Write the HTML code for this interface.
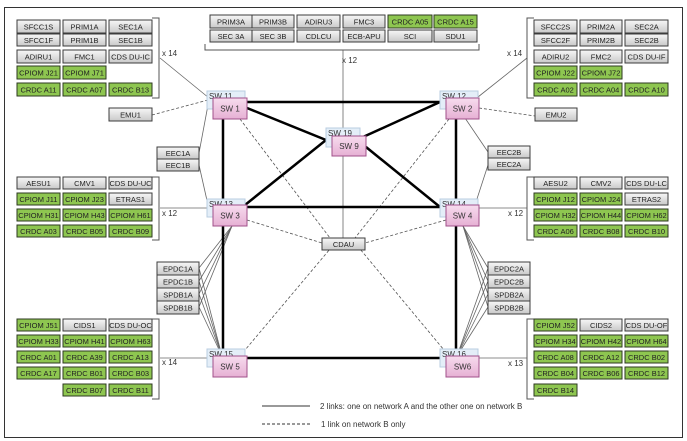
<!DOCTYPE html>
<html><head><meta charset="utf-8"><style>
html,body{margin:0;padding:0;background:#fff;}
svg{display:block;font-family:"Liberation Sans",sans-serif;}
.g{fill:url(#gg);stroke:#3c3c3c;stroke-width:1;}
.v{fill:#8ec650;stroke:#2e3a22;stroke-width:1;}
.t{font-size:7.5px;text-anchor:middle;fill:#222;}
.b{fill:#e4eef8;stroke:#b9cde0;stroke-width:1;}
.p{fill:url(#pp);stroke:#a0508a;stroke-width:1;}
.st{font-size:8px;fill:#333;}
.sw{font-size:8px;text-anchor:middle;fill:#333;}
.thk{stroke:#000;stroke-width:2.5;fill:none;}
.thn{stroke:#666;stroke-width:0.8;fill:none;}
.dsh{stroke:#555;stroke-width:0.8;stroke-dasharray:3,2;fill:none;}
.br{stroke:#555;stroke-width:1;fill:none;}
.lbl{font-size:8px;fill:#333;}
</style></head><body>
<svg width="687" height="441" viewBox="0 0 687 441">
<defs>
<linearGradient id="gg" x1="0" y1="0" x2="0" y2="1"><stop offset="0" stop-color="#f7f7f7"/><stop offset="1" stop-color="#c9c9c9"/></linearGradient>
<linearGradient id="pp" x1="0" y1="0" x2="0" y2="1"><stop offset="0" stop-color="#f7dcee"/><stop offset="1" stop-color="#e6b0d4"/></linearGradient>
</defs>
<rect x="4.5" y="7.5" width="678" height="430" fill="#fff" stroke="#333" stroke-width="1"/>

<!-- thin connectors -->
<line class="thn" x1="343" y1="50" x2="343" y2="238"/>
<line class="thn" x1="160" y1="58" x2="209" y2="98"/>
<line class="thn" x1="527" y1="58" x2="478" y2="97"/>
<line class="thn" x1="160" y1="208" x2="209" y2="208"/>
<line class="thn" x1="479" y1="208" x2="527" y2="208"/>
<line class="thn" x1="160" y1="358" x2="209" y2="358"/>
<line class="thn" x1="479" y1="358" x2="527" y2="358"/>
<line class="thn" x1="208" y1="105" x2="199" y2="153"/>
<line class="thn" x1="199" y1="165" x2="208" y2="205"/>
<line class="thn" x1="465" y1="118" x2="488" y2="152"/>
<line class="thn" x1="488" y1="165" x2="475" y2="205"/>
<!-- EPDC left -->
<line class="thn" x1="199" y1="268" x2="232" y2="226"/>
<line class="thn" x1="199" y1="281" x2="232" y2="226"/>
<line class="thn" x1="199" y1="294" x2="232" y2="226"/>
<line class="thn" x1="199" y1="307" x2="232" y2="226"/>
<line class="thn" x1="199" y1="268" x2="222" y2="356"/>
<line class="thn" x1="199" y1="281" x2="222" y2="356"/>
<line class="thn" x1="199" y1="294" x2="222" y2="356"/>
<line class="thn" x1="199" y1="307" x2="222" y2="356"/>
<!-- EPDC right -->
<line class="thn" x1="488" y1="268" x2="463" y2="226"/>
<line class="thn" x1="488" y1="281" x2="463" y2="226"/>
<line class="thn" x1="488" y1="294" x2="463" y2="226"/>
<line class="thn" x1="488" y1="307" x2="463" y2="226"/>
<line class="thn" x1="488" y1="268" x2="457" y2="356"/>
<line class="thn" x1="488" y1="281" x2="457" y2="356"/>
<line class="thn" x1="488" y1="294" x2="457" y2="356"/>
<line class="thn" x1="488" y1="307" x2="457" y2="356"/>

<!-- dashed -->
<line class="dsh" x1="152" y1="115" x2="208" y2="100"/>
<line class="dsh" x1="479" y1="108" x2="535" y2="116"/>
<line class="dsh" x1="240" y1="119" x2="330" y2="238"/>
<line class="dsh" x1="449" y1="119" x2="355" y2="238"/>
<line class="dsh" x1="247" y1="220" x2="322" y2="243"/>
<line class="dsh" x1="446" y1="220" x2="365" y2="243"/>
<line class="dsh" x1="240" y1="356" x2="330" y2="249"/>
<line class="dsh" x1="449" y1="356" x2="360" y2="249"/>

<!-- thick -->
<line class="thk" x1="240" y1="102" x2="446" y2="102"/>
<line class="thk" x1="223" y1="118" x2="223" y2="357"/>
<line class="thk" x1="456" y1="118" x2="456" y2="357"/>
<line class="thk" x1="240" y1="207" x2="446" y2="207"/>
<line class="thk" x1="240" y1="358" x2="446" y2="358"/>
<line class="thk" x1="247" y1="108" x2="326" y2="140"/>
<line class="thk" x1="363" y1="137" x2="440" y2="102"/>
<line class="thk" x1="245" y1="205" x2="326" y2="140"/>
<line class="thk" x1="366" y1="147" x2="440" y2="207"/>

<!-- brackets -->
<path class="br" d="M152,18 H159 V98 H152"/>
<path class="br" d="M152,177 H159 V240 H152"/>
<path class="br" d="M152,319 H159 V399 H152"/>
<path class="br" d="M534,18 H527 V98 H534"/>
<path class="br" d="M534,177 H527 V240 H534"/>
<path class="br" d="M534,319 H527 V399 H534"/>
<path class="br" d="M205,44 V50 H479 V44"/>
<text class="lbl" x="162" y="56">x 14</text>
<text class="lbl" x="162" y="216">x 12</text>
<text class="lbl" x="162" y="365">x 14</text>
<text class="lbl" x="507" y="56">x 14</text>
<text class="lbl" x="508" y="216">x 12</text>
<text class="lbl" x="508" y="366">x 13</text>
<text class="lbl" x="342" y="63">x 12</text>

<!-- top group -->
<rect class="g" x="210" y="15" width="42" height="13"/><text class="t" x="231" y="24.5">PRIM3A</text>
<rect class="g" x="252" y="15" width="42" height="13"/><text class="t" x="273" y="24.5">PRIM3B</text>
<rect class="g" x="297" y="15" width="43" height="13"/><text class="t" x="318.5" y="24.5">ADIRU3</text>
<rect class="g" x="343" y="15" width="42" height="13"/><text class="t" x="364" y="24.5">FMC3</text>
<rect class="v" x="388" y="15" width="44" height="13"/><text class="t" x="410" y="24.5">CRDC  A05</text>
<rect class="v" x="434" y="15" width="43" height="13"/><text class="t" x="455.5" y="24.5">CRDC  A15</text>
<rect class="g" x="210" y="30" width="42" height="12"/><text class="t" x="231" y="39">SEC  3A</text>
<rect class="g" x="252" y="30" width="42" height="12"/><text class="t" x="273" y="39">SEC  3B</text>
<rect class="g" x="297" y="30" width="43" height="12"/><text class="t" x="318.5" y="39">CDLCU</text>
<rect class="g" x="343" y="30" width="42" height="12"/><text class="t" x="364" y="39">ECB-APU</text>
<rect class="g" x="388" y="30" width="44" height="12"/><text class="t" x="410" y="39">SCI</text>
<rect class="g" x="434" y="30" width="43" height="12"/><text class="t" x="455.5" y="39">SDU1</text>

<!-- left top -->
<rect class="g" x="17" y="20" width="43" height="13"/><text class="t" x="38.5" y="29.5">SFCC1S</text>
<rect class="g" x="63" y="20" width="43" height="13"/><text class="t" x="84.5" y="29.5">PRIM1A</text>
<rect class="g" x="109" y="20" width="43" height="13"/><text class="t" x="130.5" y="29.5">SEC1A</text>
<rect class="g" x="17" y="34" width="43" height="12"/><text class="t" x="38.5" y="43">SFCC1F</text>
<rect class="g" x="63" y="34" width="43" height="12"/><text class="t" x="84.5" y="43">PRIM1B</text>
<rect class="g" x="109" y="34" width="43" height="12"/><text class="t" x="130.5" y="43">SEC1B</text>
<rect class="g" x="17" y="50" width="43" height="13"/><text class="t" x="38.5" y="59.5">ADIRU1</text>
<rect class="g" x="63" y="50" width="43" height="13"/><text class="t" x="84.5" y="59.5">FMC1</text>
<rect class="g" x="109" y="50" width="43" height="13"/><text class="t" x="130.5" y="59.5">CDS DU-IC</text>
<rect class="v" x="17" y="66" width="43" height="13"/><text class="t" x="38.5" y="75.5">CPIOM  J21</text>
<rect class="v" x="63" y="66" width="43" height="13"/><text class="t" x="84.5" y="75.5">CPIOM  J71</text>
<rect class="v" x="17" y="83" width="43" height="13"/><text class="t" x="38.5" y="92.5">CRDC  A11</text>
<rect class="v" x="63" y="83" width="43" height="13"/><text class="t" x="84.5" y="92.5">CRDC  A07</text>
<rect class="v" x="109" y="83" width="43" height="13"/><text class="t" x="130.5" y="92.5">CRDC  B13</text>
<rect class="g" x="109" y="108" width="43" height="13"/><text class="t" x="130.5" y="117.5">EMU1</text>

<!-- right top -->
<rect class="g" x="534" y="20" width="43" height="13"/><text class="t" x="555.5" y="29.5">SFCC2S</text>
<rect class="g" x="580" y="20" width="42" height="13"/><text class="t" x="601" y="29.5">PRIM2A</text>
<rect class="g" x="625" y="20" width="43" height="13"/><text class="t" x="646.5" y="29.5">SEC2A</text>
<rect class="g" x="534" y="34" width="43" height="12"/><text class="t" x="555.5" y="43">SFCC2F</text>
<rect class="g" x="580" y="34" width="42" height="12"/><text class="t" x="601" y="43">PRIM2B</text>
<rect class="g" x="625" y="34" width="43" height="12"/><text class="t" x="646.5" y="43">SEC2B</text>
<rect class="g" x="534" y="50" width="43" height="13"/><text class="t" x="555.5" y="59.5">ADIRU2</text>
<rect class="g" x="580" y="50" width="42" height="13"/><text class="t" x="601" y="59.5">FMC2</text>
<rect class="g" x="625" y="50" width="43" height="13"/><text class="t" x="646.5" y="59.5">CDS DU-IF</text>
<rect class="v" x="534" y="66" width="43" height="13"/><text class="t" x="555.5" y="75.5">CPIOM  J22</text>
<rect class="v" x="580" y="66" width="42" height="13"/><text class="t" x="601" y="75.5">CPIOM  J72</text>
<rect class="v" x="534" y="83" width="43" height="13"/><text class="t" x="555.5" y="92.5">CRDC  A02</text>
<rect class="v" x="580" y="83" width="42" height="13"/><text class="t" x="601" y="92.5">CRDC  A04</text>
<rect class="v" x="625" y="83" width="43" height="13"/><text class="t" x="646.5" y="92.5">CRDC  A10</text>
<rect class="g" x="535" y="108" width="42" height="13"/><text class="t" x="556" y="117.5">EMU2</text>

<!-- EEC -->
<rect class="g" x="157" y="147" width="42" height="12"/><text class="t" x="178" y="156">EEC1A</text>
<rect class="g" x="157" y="159" width="42" height="12"/><text class="t" x="178" y="168">EEC1B</text>
<rect class="g" x="488" y="146" width="42" height="12"/><text class="t" x="509" y="155">EEC2B</text>
<rect class="g" x="488" y="158" width="42" height="12"/><text class="t" x="509" y="167">EEC2A</text>

<!-- left mid -->
<rect class="g" x="17" y="177" width="43" height="12"/><text class="t" x="38.5" y="186">AESU1</text>
<rect class="g" x="63" y="177" width="43" height="12"/><text class="t" x="84.5" y="186">CMV1</text>
<rect class="g" x="109" y="177" width="43" height="12"/><text class="t" x="130.5" y="186">CDS DU-UC</text>
<rect class="v" x="17" y="193" width="43" height="12"/><text class="t" x="38.5" y="202">CPIOM  J11</text>
<rect class="v" x="63" y="193" width="43" height="12"/><text class="t" x="84.5" y="202">CPIOM  J23</text>
<rect class="g" x="109" y="193" width="43" height="12"/><text class="t" x="130.5" y="202">ETRAS1</text>
<rect class="v" x="17" y="209" width="43" height="12"/><text class="t" x="38.5" y="218">CPIOM  H31</text>
<rect class="v" x="63" y="209" width="43" height="12"/><text class="t" x="84.5" y="218">CPIOM  H43</text>
<rect class="v" x="109" y="209" width="43" height="12"/><text class="t" x="130.5" y="218">CPIOM  H61</text>
<rect class="v" x="17" y="225" width="43" height="12"/><text class="t" x="38.5" y="234">CRDC  A03</text>
<rect class="v" x="63" y="225" width="43" height="12"/><text class="t" x="84.5" y="234">CRDC  B05</text>
<rect class="v" x="109" y="225" width="43" height="12"/><text class="t" x="130.5" y="234">CRDC  B09</text>

<!-- right mid -->
<rect class="g" x="534" y="177" width="43" height="12"/><text class="t" x="555.5" y="186">AESU2</text>
<rect class="g" x="580" y="177" width="42" height="12"/><text class="t" x="601" y="186">CMV2</text>
<rect class="g" x="625" y="177" width="43" height="12"/><text class="t" x="646.5" y="186">CDS DU-LC</text>
<rect class="v" x="534" y="193" width="43" height="12"/><text class="t" x="555.5" y="202">CPIOM  J12</text>
<rect class="v" x="580" y="193" width="42" height="12"/><text class="t" x="601" y="202">CPIOM  J24</text>
<rect class="g" x="625" y="193" width="43" height="12"/><text class="t" x="646.5" y="202">ETRAS2</text>
<rect class="v" x="534" y="209" width="43" height="12"/><text class="t" x="555.5" y="218">CPIOM  H32</text>
<rect class="v" x="580" y="209" width="42" height="12"/><text class="t" x="601" y="218">CPIOM  H44</text>
<rect class="v" x="625" y="209" width="43" height="12"/><text class="t" x="646.5" y="218">CPIOM  H62</text>
<rect class="v" x="534" y="225" width="43" height="12"/><text class="t" x="555.5" y="234">CRDC  A06</text>
<rect class="v" x="580" y="225" width="42" height="12"/><text class="t" x="601" y="234">CRDC  B08</text>
<rect class="v" x="625" y="225" width="43" height="12"/><text class="t" x="646.5" y="234">CRDC  B10</text>

<!-- EPDC -->
<rect class="g" x="157" y="262" width="42" height="13"/><text class="t" x="178" y="271.5">EPDC1A</text>
<rect class="g" x="157" y="275" width="42" height="13"/><text class="t" x="178" y="284.5">EPDC1B</text>
<rect class="g" x="157" y="288" width="42" height="13"/><text class="t" x="178" y="297.5">SPDB1A</text>
<rect class="g" x="157" y="301" width="42" height="13"/><text class="t" x="178" y="310.5">SPDB1B</text>
<rect class="g" x="488" y="262" width="42" height="13"/><text class="t" x="509" y="271.5">EPDC2A</text>
<rect class="g" x="488" y="275" width="42" height="13"/><text class="t" x="509" y="284.5">EPDC2B</text>
<rect class="g" x="488" y="288" width="42" height="13"/><text class="t" x="509" y="297.5">SPDB2A</text>
<rect class="g" x="488" y="301" width="42" height="13"/><text class="t" x="509" y="310.5">SPDB2B</text>

<!-- bottom left -->
<rect class="v" x="17" y="319" width="43" height="12"/><text class="t" x="38.5" y="328">CPIOM  J51</text>
<rect class="g" x="63" y="319" width="43" height="12"/><text class="t" x="84.5" y="328">CIDS1</text>
<rect class="g" x="109" y="319" width="43" height="12"/><text class="t" x="130.5" y="328">CDS DU-OC</text>
<rect class="v" x="17" y="335" width="43" height="12"/><text class="t" x="38.5" y="344">CPIOM  H33</text>
<rect class="v" x="63" y="335" width="43" height="12"/><text class="t" x="84.5" y="344">CPIOM  H41</text>
<rect class="v" x="109" y="335" width="43" height="12"/><text class="t" x="130.5" y="344">CPIOM  H63</text>
<rect class="v" x="17" y="351" width="43" height="12"/><text class="t" x="38.5" y="360">CRDC  A01</text>
<rect class="v" x="63" y="351" width="43" height="12"/><text class="t" x="84.5" y="360">CRDC  A39</text>
<rect class="v" x="109" y="351" width="43" height="12"/><text class="t" x="130.5" y="360">CRDC  A13</text>
<rect class="v" x="17" y="367" width="43" height="12"/><text class="t" x="38.5" y="376">CRDC  A17</text>
<rect class="v" x="63" y="367" width="43" height="12"/><text class="t" x="84.5" y="376">CRDC  B01</text>
<rect class="v" x="109" y="367" width="43" height="12"/><text class="t" x="130.5" y="376">CRDC  B03</text>
<rect class="v" x="63" y="384" width="43" height="12"/><text class="t" x="84.5" y="393">CRDC  B07</text>
<rect class="v" x="109" y="384" width="43" height="12"/><text class="t" x="130.5" y="393">CRDC  B11</text>

<!-- bottom right -->
<rect class="v" x="534" y="319" width="43" height="12"/><text class="t" x="555.5" y="328">CPIOM  J52</text>
<rect class="g" x="580" y="319" width="42" height="12"/><text class="t" x="601" y="328">CIDS2</text>
<rect class="g" x="625" y="319" width="43" height="12"/><text class="t" x="646.5" y="328">CDS DU-OF</text>
<rect class="v" x="534" y="335" width="43" height="12"/><text class="t" x="555.5" y="344">CPIOM  H34</text>
<rect class="v" x="580" y="335" width="42" height="12"/><text class="t" x="601" y="344">CPIOM  H42</text>
<rect class="v" x="625" y="335" width="43" height="12"/><text class="t" x="646.5" y="344">CPIOM  H64</text>
<rect class="v" x="534" y="351" width="43" height="12"/><text class="t" x="555.5" y="360">CRDC  A08</text>
<rect class="v" x="580" y="351" width="42" height="12"/><text class="t" x="601" y="360">CRDC  A12</text>
<rect class="v" x="625" y="351" width="43" height="12"/><text class="t" x="646.5" y="360">CRDC  B02</text>
<rect class="v" x="534" y="367" width="43" height="12"/><text class="t" x="555.5" y="376">CRDC  B04</text>
<rect class="v" x="580" y="367" width="42" height="12"/><text class="t" x="601" y="376">CRDC  B06</text>
<rect class="v" x="625" y="367" width="43" height="12"/><text class="t" x="646.5" y="376">CRDC  B12</text>
<rect class="v" x="534" y="384" width="43" height="12"/><text class="t" x="555.5" y="393">CRDC  B14</text>

<!-- CDAU -->
<rect class="g" x="322" y="238" width="43" height="12"/><text class="t" x="343.5" y="247">CDAU</text>

<!-- switches -->
<rect class="b" x="207" y="91" width="38" height="18"/><text class="st" x="209" y="99">SW 11</text>
<rect class="p" x="213" y="98" width="34" height="21"/><text class="sw" x="230" y="111.5">SW 1</text>
<rect class="b" x="440" y="91" width="38" height="18"/><text class="st" x="442" y="99">SW 12</text>
<rect class="p" x="446" y="98" width="33" height="21"/><text class="sw" x="462.5" y="111.5">SW 2</text>
<rect class="b" x="326" y="128" width="34" height="19"/><text class="st" x="328" y="136">SW 19</text>
<rect class="p" x="332" y="136" width="34" height="20"/><text class="sw" x="349" y="149">SW 9</text>
<rect class="b" x="207" y="199" width="38" height="18"/><text class="st" x="209" y="207">SW 13</text>
<rect class="p" x="213" y="205" width="34" height="21"/><text class="sw" x="230" y="218.5">SW 3</text>
<rect class="b" x="440" y="199" width="38" height="18"/><text class="st" x="442" y="207">SW 14</text>
<rect class="p" x="446" y="205" width="33" height="21"/><text class="sw" x="462.5" y="218.5">SW 4</text>
<rect class="b" x="207" y="349" width="38" height="18"/><text class="st" x="209" y="357">SW 15</text>
<rect class="p" x="213" y="356" width="34" height="21"/><text class="sw" x="230" y="369.5">SW 5</text>
<rect class="b" x="440" y="349" width="38" height="18"/><text class="st" x="442" y="357">SW 16</text>
<rect class="p" x="446" y="356" width="33" height="21"/><text class="sw" x="462.5" y="369.5">SW6</text>

<!-- legend -->
<line x1="262" y1="406" x2="310" y2="406" stroke="#333" stroke-width="1"/>
<text class="lbl" x="320" y="409">2 links: one on network A and the other one on network B</text>
<line x1="262" y1="424" x2="310" y2="424" stroke="#333" stroke-width="1" stroke-dasharray="3,2"/>
<text class="lbl" x="321" y="427">1 link on network B only</text>
</svg>
</body></html>
